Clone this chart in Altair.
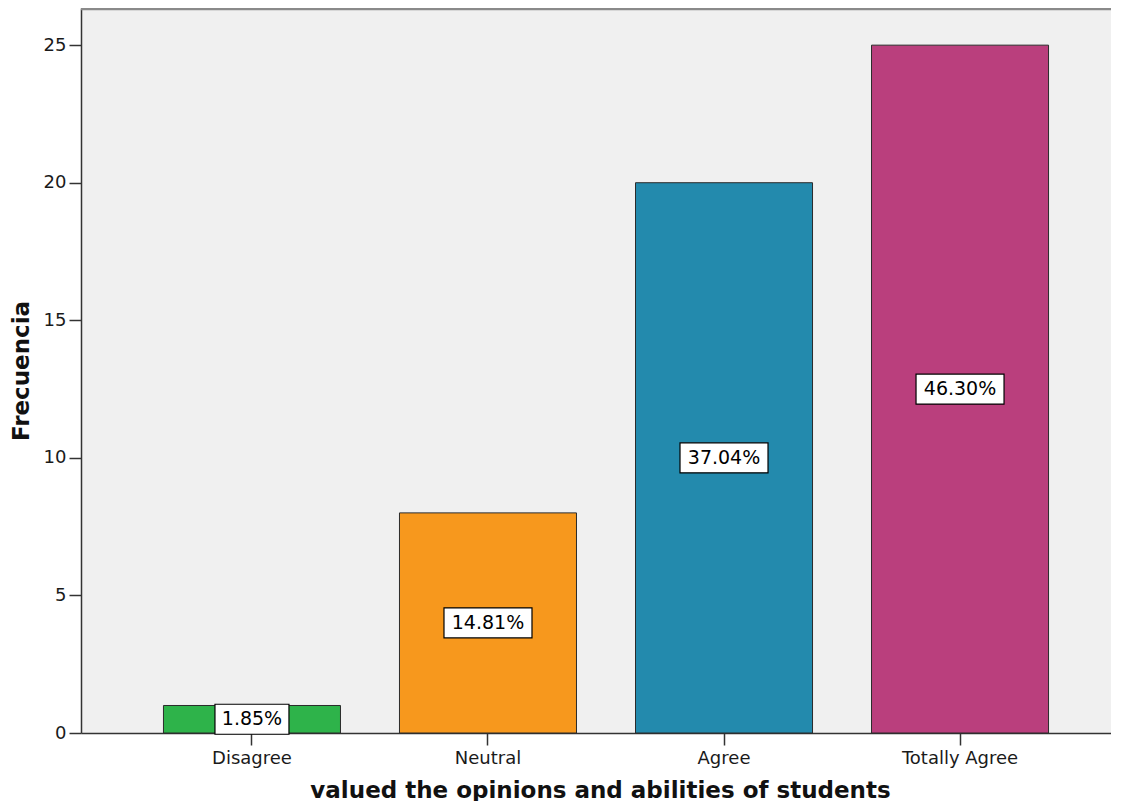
import altair as alt
import pandas as pd

categories = ["Disagree", "Neutral", "Agree", "Totally Agree"]
counts = [1, 8, 20, 25]
percent_labels = ["1.85%", "14.81%", "37.04%", "46.30%"]
colors = ["#2EB34A", "#F7981D", "#238AAD", "#BA3F7D"]

df = pd.DataFrame({"category": categories, "count": counts, "label": percent_labels})

W = 1030
H = 725
FONT = "DejaVu Sans"

xscale = alt.Scale(domain=categories, paddingInner=0.25, paddingOuter=0.307, align=0.569)
yscale = alt.Scale(domain=[0, 26.35], nice=False, zero=True)

x_axis = alt.Axis(
    title="valued the opinions and abilities of students",
    labelAngle=0, tickSize=12, labelPadding=4, titlePadding=12,
    titleX=519, titleAlign="center",
)
y_axis = alt.Axis(
    title="Frecuencia", values=[0, 5, 10, 15, 20, 25], tickSize=12,
    labelPadding=3, titlePadding=10, grid=False,
)

X = alt.X("category:N", sort=categories, scale=xscale, axis=x_axis)

base = alt.Chart(df)

bars = base.mark_bar(stroke="#2b2b2b", strokeWidth=1).encode(
    x=X,
    y=alt.Y("count:Q", scale=yscale, axis=y_axis),
    color=alt.Color("category:N", scale=alt.Scale(domain=categories, range=colors), legend=None),
)

box_wide = base.transform_calculate(mid="datum.count / 2").transform_filter(
    "length(datum.label) >= 6"
).mark_bar(width=88, yOffset=-15, y2Offset=15, fill="white", stroke="black", strokeWidth=1.2).encode(
    x=X,
    y=alt.Y("mid:Q", scale=yscale, axis=y_axis),
    y2="mid:Q",
)

box_narrow = base.transform_calculate(mid="datum.count / 2").transform_filter(
    "length(datum.label) < 6"
).mark_bar(width=74, yOffset=-15, y2Offset=15, fill="white", stroke="black", strokeWidth=1.2).encode(
    x=X,
    y=alt.Y("mid:Q", scale=yscale, axis=y_axis),
    y2="mid:Q",
)

texts = base.transform_calculate(mid="datum.count / 2").mark_text(
    font=FONT, fontSize=19, color="black", baseline="middle", align="center"
).encode(
    x=X,
    y=alt.Y("mid:Q", scale=yscale, axis=y_axis),
    text="label:N",
)

top_line = alt.Chart(pd.DataFrame({"k": [0]})).mark_rule(color="#8a8a8a", strokeWidth=2.5).encode(
    x=alt.value(0), x2=alt.value(W), y=alt.value(1)
)

chart = alt.layer(bars, box_wide, box_narrow, texts, top_line).properties(
    width=W, height=H,
    autosize=alt.AutoSizeParams(type="none"),
    padding={"left": 73, "top": 0, "right": 0, "bottom": 68},
).configure_view(
    fill="#F0F0F0", stroke="transparent"
).configure_axis(
    labelFont=FONT, labelFontSize=18, labelColor="#1a1a1a",
    titleFont=FONT, titleFontSize=23, titleFontWeight="bold", titleColor="#111111",
    domainColor="#333333", domainWidth=1.5, tickColor="#333333", tickWidth=1.5,
)

chart.save("out.html", embed_options={"renderer": "svg", "actions": False})
